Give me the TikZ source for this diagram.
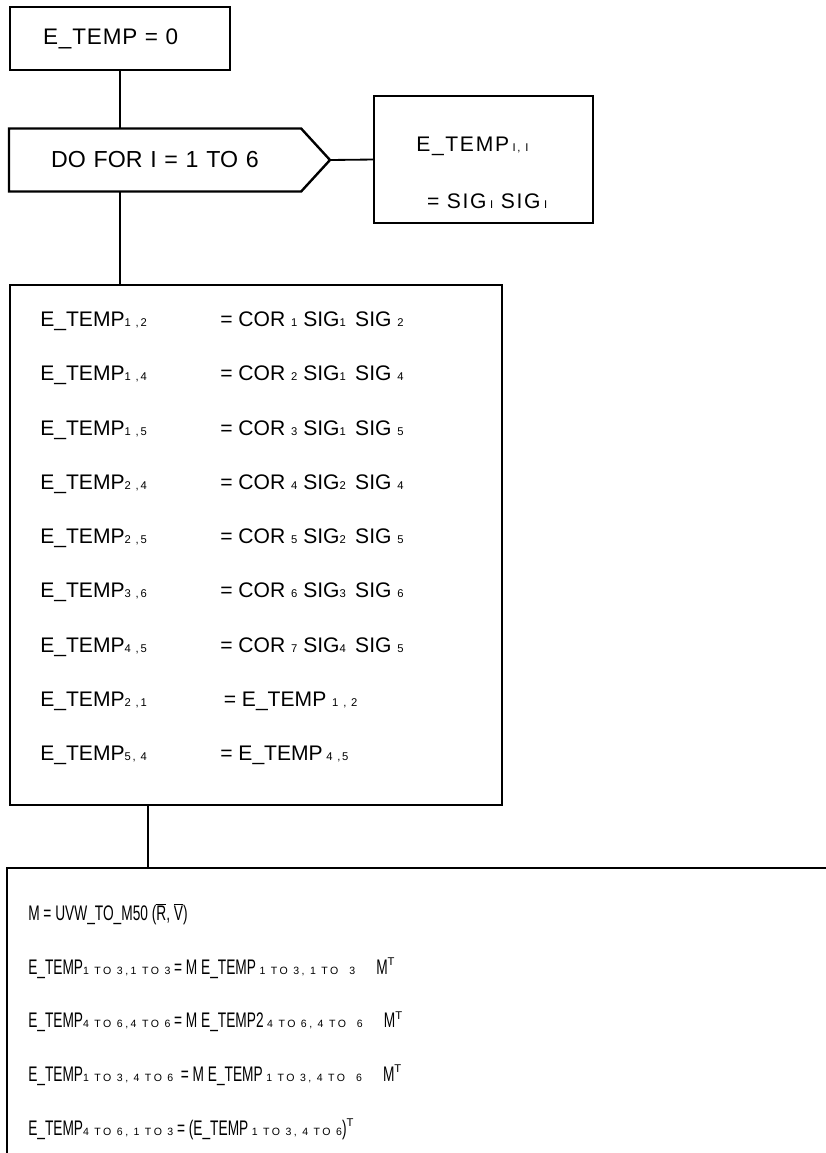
\documentclass[tikz,border=0pt]{standalone}
\usepackage{fontspec}
\setmainfont{Liberation Sans}
\newfontfamily\narrowfont[FakeStretch=0.65]{Liberation Sans}
\usetikzlibrary{shapes.symbols}
\newcommand{\idx}[1]{{\normalfont\fontsize{8}{8}\selectfont\addfontfeature{LetterSpace=15}#1}}
\newcommand{\idxw}[1]{{\normalfont\fontsize{7.5}{8}\selectfont\addfontfeature{LetterSpace=24}#1}}
\newcommand{\trp}{\raisebox{0.22cm}{\idx{T}}}
\begin{document}
\begin{tikzpicture}[box/.style = {rectangle,draw,line width=1.7pt,outer sep=0mm,inner sep=0pt},
    line/.style = {line width=1.3pt},
    row/.style = {anchor=base west,inner sep=0pt,font=\fontsize{15}{18}\selectfont},
    spaced/.style = {row,font=\fontsize{15}{18}\selectfont\addfontfeature{LetterSpace=8}},
    low/.style = {anchor=base west,inner sep=0pt,font=\narrowfont\fontsize{15}{18}\selectfont}]
\useasboundingbox (0,0) rectangle (20.625,-28.825);
\node[box,minimum width=5.5cm,minimum height=1.575cm,anchor=north west,text width=3.85cm,align=left,font=\fontsize{16}{18}\selectfont\addfontfeature{LetterSpace=4}] (init) at (0.25,-0.175) {E\_TEMP = 0};
\node[signal,signal to=east,signal pointer angle=95,draw,line width=1.7pt,outer sep=0mm,inner sep=0pt,minimum width=8.025cm,minimum height=1.575cm,anchor=west,text width=5.2cm,align=left,font=\fontsize{16.5}{20}\selectfont] (loop) at (0.225,-4) {DO FOR I = 1 TO 6};
\node[box,minimum width=5.475cm,minimum height=3.175cm,anchor=north west] (diag) at (9.35,-2.4) {};
\node[spaced] (dtop) at (10.4,-3.79) {E\_TEMP\,\idx{I, I}};
\node[spaced] (dbot) at (10.67,-5.2) {= SIG\,\idx{I} SIG\,\idx{I}};
\node[box,minimum width=12.3cm,minimum height=13cm,anchor=north west] (pairs) at (0.25,-7.125) {};
\foreach \a/\b [count=\k from 0] in {{1 ,2}/{= COR \idx{1} SIG\idx{1}\, SIG \idx{2}},
    {1 ,4}/{= COR \idx{2} SIG\idx{1}\, SIG \idx{4}},
    {1 ,5}/{= COR \idx{3} SIG\idx{1}\, SIG \idx{5}},
    {2 ,4}/{= COR \idx{4} SIG\idx{2}\, SIG \idx{4}},
    {2 ,5}/{= COR \idx{5} SIG\idx{2}\, SIG \idx{5}},
    {3 ,6}/{= COR \idx{6} SIG\idx{3}\, SIG \idx{6}},
    {4 ,5}/{= COR \idx{7} SIG\idx{4}\, SIG \idx{5}},
    {2 ,1}/{\,= E\_TEMP \idx{1 , 2}},
    {5, 4}/{= E\_TEMP\,\idx{4 ,5}}}
{
    \node[row] (lhs\k) at (1.0,-8.1675-1.356*\k) {E\_TEMP\idx{\a}};
    \node[row] (rhs\k) at (5.5,-8.1675-1.356*\k) {\b};
}
\node[box,minimum width=21.3cm,minimum height=8cm,anchor=north west] (result) at (0.175,-21.7) {};
\foreach \t [count=\k from 0] in {{M = UVW\_TO\_M50 ($\overline{\hbox{R}}$, $\overline{\hbox{V}}$)},
    {E\_TEMP\idxw{1 TO 3,1 TO 3} = M E\_TEMP\,\idxw{1 TO 3, 1 TO \ 3}\quad M\trp},
    {E\_TEMP\idxw{4 TO 6,4 TO 6} = M E\_TEMP2\,\idxw{4 TO 6, 4 TO \ 6}\quad M\trp},
    {E\_TEMP\idxw{1 TO 3, 4 TO 6}\ \ = M E\_TEMP\,\idxw{1 TO 3, 4 TO \ 6}\quad M\trp},
    {E\_TEMP\idxw{4 TO 6, 1 TO 3} = (E\_TEMP\,\idxw{1 TO 3, 4 TO 6})\trp}}
    \node[low] (eq\k) at (0.7,-23.0175-1.34*\k) {\t};
\draw[line] (init.south) -- (init.south |- loop.north);
\draw[line] (init.south |- loop.south) -- (init.south |- pairs.north);
\draw[line] (loop.east) -- (diag.west);
\coordinate (drop) at ([xshift=3.45cm]pairs.south west);
\draw[line] (drop) -- (drop |- result.north);
\end{tikzpicture}
\end{document}
